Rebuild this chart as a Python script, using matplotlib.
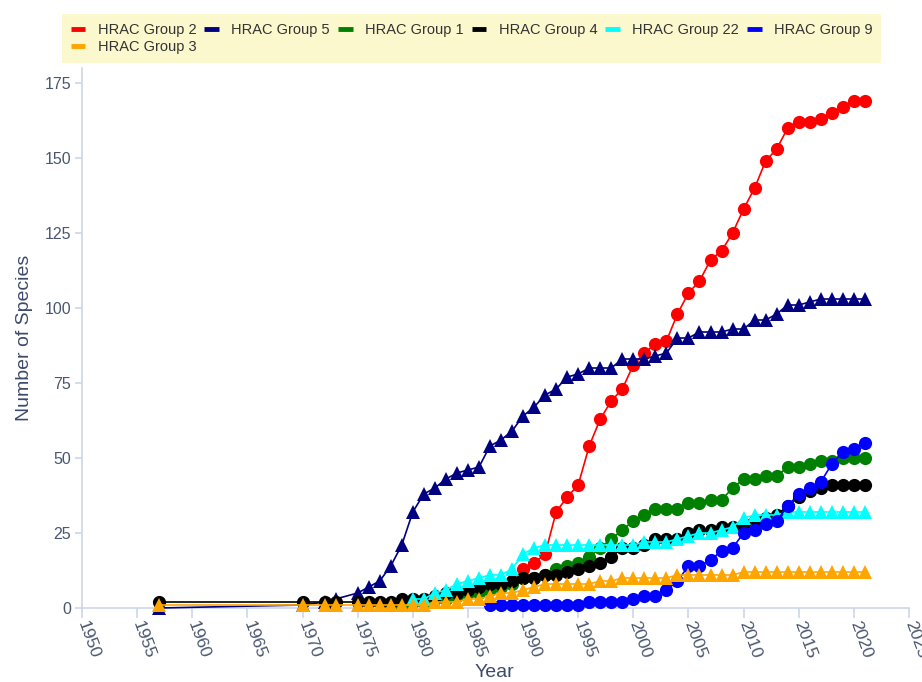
import matplotlib
matplotlib.use("Agg")
import matplotlib.pyplot as plt
from matplotlib.lines import Line2D

plt.rcParams['font.family'] = ['Liberation Sans', 'DejaVu Sans']

# ---------------- data ----------------
years_g2 = [1990, 1991, 1992, 1993, 1994, 1995, 1996, 1997, 1998, 1999,
            2000, 2001, 2002, 2003, 2004, 2005, 2006, 2007, 2008, 2009,
            2010, 2011, 2012, 2013, 2014, 2015, 2016, 2017, 2018, 2019,
            2020, 2021]
vals_g2 = [13, 15, 18, 32, 37, 41, 54, 63, 69, 73,
           81, 85, 88, 89, 98, 105, 109, 116, 119, 125,
           133, 140, 149, 153, 160, 162, 162, 163, 165, 167,
           169, 169]

years_full = [1957, 1970, 1972, 1973, 1975, 1976, 1977, 1978, 1979,
              1980, 1981, 1982, 1983, 1984, 1985, 1986, 1987, 1988, 1989,
              1990, 1991, 1992, 1993, 1994, 1995, 1996, 1997, 1998, 1999,
              2000, 2001, 2002, 2003, 2004, 2005, 2006, 2007, 2008, 2009,
              2010, 2011, 2012, 2013, 2014, 2015, 2016, 2017, 2018, 2019,
              2020, 2021]
vals_g5 = [0, 1, 2, 3, 5, 7, 9, 14, 21,
           32, 38, 40, 43, 45, 46, 47, 54, 56, 59,
           64, 67, 71, 73, 77, 78, 80, 80, 80, 83,
           83, 83, 84, 85, 90, 90, 92, 92, 92, 93,
           93, 96, 96, 98, 101, 101, 102, 103, 103, 103,
           103, 103]
vals_g4 = [2, 2, 2, 2, 2, 2, 2, 2, 3,
           3, 3, 4, 5, 5, 6, 7, 8, 8, 9,
           10, 10, 11, 11, 12, 13, 14, 15, 17, 20,
           20, 21, 23, 23, 23, 25, 26, 26, 27, 27,
           28, 29, 30, 31, 34, 37, 39, 40, 41, 41,
           41, 41]
vals_g3 = [1, 1, 1, 1, 1, 1, 1, 1, 1,
           1, 1, 2, 2, 2, 3, 3, 4, 5, 5,
           6, 7, 8, 8, 8, 8, 8, 9, 9, 10,
           10, 10, 10, 10, 11, 11, 11, 11, 11, 11,
           12, 12, 12, 12, 12, 12, 12, 12, 12, 12,
           12, 12]

years_g1 = [1978, 1979, 1980, 1981, 1982, 1983, 1984, 1985, 1986, 1987,
            1988, 1989, 1990, 1991, 1992, 1993, 1994, 1995, 1996, 1997,
            1998, 1999, 2000, 2001, 2002, 2003, 2004, 2005, 2006, 2007,
            2008, 2009, 2010, 2011, 2012, 2013, 2014, 2015, 2016, 2017,
            2018, 2019, 2020, 2021]
vals_g1 = [1, 1, 2, 2, 3, 3, 4, 5, 5, 6,
           7, 8, 10, 10, 11, 13, 14, 15, 17, 20,
           23, 26, 29, 31, 33, 33, 33, 35, 35, 36,
           36, 40, 43, 43, 44, 44, 47, 47, 48, 49,
           49, 50, 50, 50]

years_g22 = [1980, 1981, 1982, 1983, 1984, 1985, 1986, 1987, 1988, 1989,
             1990, 1991, 1992, 1993, 1994, 1995, 1996, 1997, 1998, 1999,
             2000, 2001, 2002, 2003, 2004, 2005, 2006, 2007, 2008, 2009,
             2010, 2011, 2012, 2013, 2014, 2015, 2016, 2017, 2018, 2019,
             2020, 2021]
vals_g22 = [3, 3, 5, 6, 8, 9, 10, 11, 11, 13,
            18, 20, 21, 21, 21, 21, 21, 21, 21, 21,
            21, 22, 22, 22, 23, 24, 25, 25, 26, 27,
            30, 31, 31, 31, 32, 32, 32, 32, 32, 32,
            32, 32]

years_g9 = [1987, 1988, 1989, 1990, 1991, 1992, 1993, 1994, 1995, 1996,
            1997, 1998, 1999, 2000, 2001, 2002, 2003, 2004, 2005, 2006,
            2007, 2008, 2009, 2010, 2011, 2012, 2013, 2014, 2015, 2016,
            2017, 2018, 2019, 2020, 2021]
vals_g9 = [1, 1, 1, 1, 1, 1, 1, 1, 1, 2,
           2, 2, 2, 3, 4, 4, 6, 9, 14, 14,
           16, 19, 20, 25, 26, 28, 29, 34, 38, 40,
           42, 48, 52, 53, 55]

series_names = ["HRAC Group 2", "HRAC Group 5", "HRAC Group 1", "HRAC Group 4",
                "HRAC Group 22", "HRAC Group 9", "HRAC Group 3"]
x_ticks = [1950, 1955, 1960, 1965, 1970, 1975, 1980, 1985, 1990, 1995,
           2000, 2005, 2010, 2015, 2020, 2025]
y_ticks = [0, 25, 50, 75, 100, 125, 150, 175]

# ---------------- styling ----------------
series = [
    (years_g2, vals_g2, '#ff0000', 'o'),
    (years_full, vals_g5, '#000080', '^'),
    (years_g1, vals_g1, '#008000', 'o'),
    (years_full, vals_g4, '#000000', 'o'),
    (years_g22, vals_g22, '#00ffff', '^'),
    (years_g9, vals_g9, '#0000ff', 'o'),
    (years_full, vals_g3, '#ffa500', '^'),
]

W, H = 922, 682
fig = plt.figure(figsize=(W / 100, H / 100), dpi=100)
ax = fig.add_axes([82 / W, 1 - 608 / H, (909 - 82) / W, (608 - 68) / H])

handles = []
for i, ((xs, ys, col, mk), name) in enumerate(zip(series, series_names)):
    ms = 9.5 if mk == 'o' else 10
    ax.plot(xs, ys, color=col, lw=1.2, marker=mk, markersize=ms,
            markeredgewidth=0, zorder=3 + i, clip_on=False)
    handles.append(Line2D([0], [0], color=col, lw=3.5, solid_capstyle='butt'))

ax.set_xlim(1950, 2025)
ax.set_ylim(0, 180)
ax.set_xticks(x_ticks)
ax.set_yticks(y_ticks)

axis_col = '#ccd6eb'
for s in ['top', 'right']:
    ax.spines[s].set_visible(False)
for s in ['left', 'bottom']:
    ax.spines[s].set_color(axis_col)
    ax.spines[s].set_linewidth(1.2)

lab_col = '#4a5670'
ax.tick_params(axis='x', colors=axis_col, length=7, width=1.2, labelcolor=lab_col,
               labelsize=12.5, pad=3)
ax.tick_params(axis='y', colors=axis_col, length=5, width=1.2, labelcolor=lab_col,
               labelsize=11.5, pad=3)
for lbl in ax.get_xticklabels():
    lbl.set_rotation(-70)
    lbl.set_rotation_mode('anchor')
    lbl.set_ha('left')
    lbl.set_va('center')

title_col = '#3c4a6b'
ax.set_xlabel("Year", fontsize=14, color=title_col, va='center')
ax.set_ylabel("Number of Species", fontsize=14, color=title_col, va='center')
ax.xaxis.set_label_coords(0.499, -0.12)
ax.yaxis.set_label_coords(-0.069, 0.5)

# legend: order so that column-major fill gives row-major appearance
order = [0, 6, 1, 2, 3, 4, 5]
leg = fig.legend([handles[k] for k in order], [series_names[k] for k in order],
                 ncol=6, loc='upper left', bbox_to_anchor=(62 / W, 1 - 14 / H),
                 borderaxespad=0, fontsize=10.5, frameon=True, fancybox=False,
                 handlelength=1.0, handletextpad=0.85, columnspacing=0.55,
                 labelspacing=0.25, borderpad=0.6)
leg.get_frame().set_facecolor('#fbf8cd')
leg.get_frame().set_edgecolor('none')
leg.get_frame().set_alpha(1)
for t in leg.get_texts():
    t.set_color('#333333')

fig.savefig("out.png", dpi=100, facecolor='white')
